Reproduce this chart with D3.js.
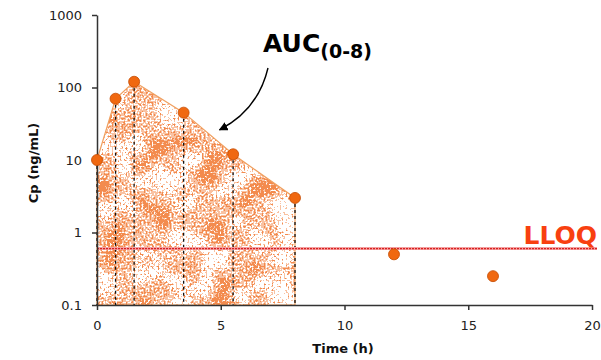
<!DOCTYPE html>
<html>
<head>
<meta charset="utf-8">
<script src="https://cdn.jsdelivr.net/npm/d3@7"></script>
<style>
  html, body { margin: 0; padding: 0; background: #fff; }
  svg { display: block; }
  text { font-family: "DejaVu Sans", Verdana, sans-serif; }
</style>
</head>
<body>
<svg id="chart" width="601" height="360"></svg>
<script>
// Plasma concentration–time profile
const times = [0, 0.75, 1.5, 3.5, 5.5, 8, 12, 16];
const conc = [10, 70, 120, 45, 12, 3, 0.5, 0.25];
const aucEnd = 8;            // AUC window end (h)
const lloq = 0.6;            // lower limit of quantification (ng/mL)
const xTicks = [0, 5, 10, 15, 20];
const yTicks = [0.1, 1, 10, 100, 1000];
const yTickLabels = ["0.1", "1", "10", "100", "1000"];

const svg = d3.select("#chart");
const x = d3.scaleLinear().domain([0, 20]).range([97, 592]);
const y = d3.scaleLog().domain([0.1, 1000]).range([305, 15]);

const defs = svg.append("defs");

// grainy orange stipple used to fill the AUC region
const f = defs.append("filter").attr("id", "stipple")
  .attr("x", 0).attr("y", 0).attr("width", 1).attr("height", 1)
  .attr("color-interpolation-filters", "sRGB");
const opaque = "1 0 0 0 0  0 1 0 0 0  0 0 1 0 0  0 0 0 0 1";
f.append("feTurbulence").attr("type", "fractalNoise").attr("baseFrequency", 0.5)
  .attr("numOctaves", 1).attr("seed", 4).attr("result", "fineRaw");
f.append("feColorMatrix").attr("in", "fineRaw").attr("type", "matrix").attr("values", opaque).attr("result", "fine");
f.append("feTurbulence").attr("type", "fractalNoise").attr("baseFrequency", 0.03)
  .attr("numOctaves", 2).attr("seed", 11).attr("result", "coarseRaw");
f.append("feColorMatrix").attr("in", "coarseRaw").attr("type", "matrix").attr("values", opaque).attr("result", "coarse");
f.append("feComposite").attr("in", "fine").attr("in2", "coarse")
  .attr("operator", "arithmetic").attr("k2", 0.6).attr("k3", 0.4).attr("k4", 0)
  .attr("result", "mix");
f.append("feColorMatrix").attr("in", "mix").attr("type", "matrix")
  .attr("values", "0 0 0 0 0.95  0 0 0 0 0.52  0 0 0 0 0.27  1 0 0 0 0")
  .attr("result", "col");
const ct = f.append("feComponentTransfer").attr("in", "col").attr("result", "thr");
const steps = d3.range(25).map(i => (i < 12 ? 0 : i < 14 ? 0.5 : 0.95)).join(" ");
ct.append("feFuncA").attr("type", "discrete").attr("tableValues", steps);
f.append("feComposite").attr("in", "thr").attr("in2", "SourceGraphic").attr("operator", "in");

defs.append("marker").attr("id", "arrow").attr("viewBox", "0 0 10 10")
  .attr("refX", 9).attr("refY", 5).attr("markerWidth", 9).attr("markerHeight", 9)
  .attr("markerUnits", "userSpaceOnUse").attr("orient", "auto")
  .append("path").attr("d", "M0,0 L10,5 L0,10 Z").attr("fill", "#000");

// AUC(0-8) region
const aucPts = times.map((t, i) => [t, conc[i]]).filter(d => d[0] <= aucEnd);
const area = d3.area().x(d => x(d[0])).y0(y(0.1)).y1(d => y(d[1]));
svg.append("path").datum(aucPts).attr("d", area)
  .attr("fill", "#f08040").attr("filter", "url(#stipple)");
svg.append("path").datum(aucPts).attr("d", area)
  .attr("fill", "none").attr("stroke", "#f0a060").attr("stroke-width", 1.2);

// dashed trapezoid dividers
svg.append("g").selectAll("line").data(aucPts).join("line")
  .attr("x1", d => x(d[0])).attr("x2", d => x(d[0]))
  .attr("y1", d => y(d[1])).attr("y2", y(0.1))
  .attr("stroke", "#111").attr("stroke-width", 1.3).attr("stroke-dasharray", "3,3");

// LLOQ line
svg.append("line").attr("x1", x(0)).attr("x2", 597)
  .attr("y1", y(lloq)).attr("y2", y(lloq))
  .attr("stroke", "#f4a0a0").attr("stroke-width", 3);
svg.append("line").attr("x1", x(0)).attr("x2", 597)
  .attr("y1", y(lloq)).attr("y2", y(lloq))
  .attr("stroke", "#d82020").attr("stroke-width", 1.2).attr("stroke-dasharray", "2,1");
svg.append("text").attr("x", 597).attr("y", 244).attr("text-anchor", "end")
  .attr("font-size", 25).attr("font-weight", "bold").attr("fill", "#f84010").text("LLOQ");

// axes
const yAxis = d3.axisLeft(y).tickValues(yTicks).tickFormat((d, i) => yTickLabels[i])
  .tickSizeInner(5).tickSizeOuter(0).tickPadding(10);
const xAxis = d3.axisBottom(x).tickValues(xTicks).tickFormat(d3.format("d"))
  .tickSizeInner(5).tickSizeOuter(0).tickPadding(11);
const gy = svg.append("g").attr("transform", `translate(${x(0)},0)`).call(yAxis);
const gx = svg.append("g").attr("transform", `translate(0,${y(0.1)})`).call(xAxis);
[gx, gy].forEach(g => {
  g.select(".domain").attr("stroke", "#333").attr("stroke-width", 1.5);
  g.selectAll(".tick line").attr("stroke", "#333").attr("stroke-width", 1.5);
  g.selectAll(".tick text").attr("font-family", "DejaVu Sans, Verdana, sans-serif")
    .attr("font-size", 13).attr("fill", "#222");
});

// data points
svg.append("g").selectAll("circle").data(times).join("circle")
  .attr("cx", (d) => x(d)).attr("cy", (d, i) => y(conc[i])).attr("r", 5.5)
  .attr("fill", "#f06810").attr("stroke", "#c44a00").attr("stroke-width", 0.8);

// axis titles
svg.append("text").attr("x", 343).attr("y", 353).attr("text-anchor", "middle")
  .attr("font-size", 13).attr("font-weight", "bold").attr("fill", "#111").text("Time (h)");
svg.append("text").attr("transform", "translate(38,163) rotate(-90)").attr("text-anchor", "middle")
  .attr("font-size", 13).attr("font-weight", "bold").attr("fill", "#111").text("Cp (ng/mL)");

// AUC annotation
const lab = svg.append("text").attr("x", 263).attr("y", 52)
  .attr("font-weight", "bold").attr("fill", "#000");
lab.append("tspan").attr("font-size", 25).text("AUC");
lab.append("tspan").attr("font-size", 19).attr("dy", 6).text("(0-8)");
svg.append("path")
  .attr("d", `M268,68 Q258,110 ${x(4.95)},${y(26)}`)
  .attr("fill", "none").attr("stroke", "#000").attr("stroke-width", 1.4)
  .attr("marker-end", "url(#arrow)");
</script>
</body>
</html>
